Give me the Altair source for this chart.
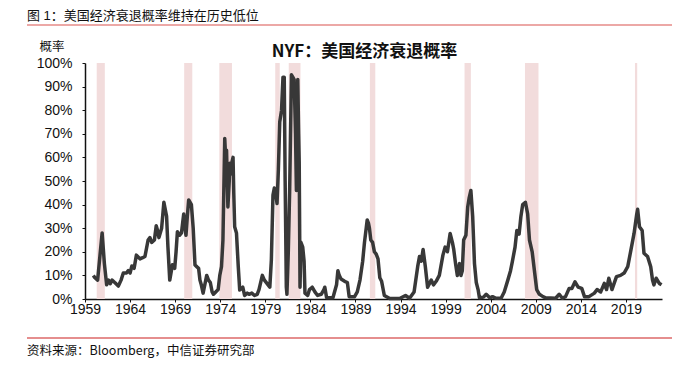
import altair as alt
import pandas as pd

# ---- data ----
years = [1959.92, 1960.1, 1960.4, 1960.9, 1961.15, 1961.4, 1961.6, 1961.8, 1962.0, 1962.3,
         1962.7, 1963.0, 1963.25, 1963.6, 1963.8, 1964.0, 1964.2, 1964.45, 1964.7, 1965.1,
         1965.4, 1965.65, 1966.0, 1966.2, 1966.4, 1966.7, 1966.9, 1967.05, 1967.2, 1967.5,
         1967.75, 1968.05, 1968.2, 1968.4, 1968.7, 1968.95, 1969.1, 1969.25, 1969.5, 1969.7,
         1969.95, 1970.1, 1970.2, 1970.35, 1970.5, 1970.8, 1971.0, 1971.2, 1971.45, 1971.6,
         1971.75, 1971.9, 1972.1, 1972.5, 1972.7, 1972.9, 1973.1, 1973.25, 1973.5, 1973.77,
         1973.95, 1974.14, 1974.3, 1974.5, 1974.6, 1974.7, 1974.85, 1975.0, 1975.06, 1975.2,
         1975.3, 1975.42, 1975.5, 1975.6, 1975.8, 1976.0, 1976.16, 1976.5, 1976.7, 1977.0,
         1977.2, 1977.5, 1977.8, 1978.1, 1978.3, 1978.67, 1978.9, 1979.2, 1979.5, 1979.67,
         1979.85, 1980.0, 1980.15, 1980.3, 1980.45, 1980.6, 1980.8, 1980.96, 1981.1, 1981.2,
         1981.33, 1981.4, 1981.55, 1981.7, 1981.9, 1982.05, 1982.2, 1982.35, 1982.45, 1982.6,
         1982.7, 1982.76, 1982.85, 1982.95, 1983.15, 1983.3, 1983.4, 1983.7, 1983.9, 1984.2,
         1984.5, 1984.8, 1985.2, 1985.5, 1985.6, 1985.8, 1986.5, 1986.9, 1987.05, 1987.2,
         1987.4, 1987.8, 1988.1, 1988.3, 1988.9, 1989.2, 1989.5, 1989.8, 1990.0, 1990.3,
         1990.45, 1990.55, 1990.7, 1990.9, 1991.1, 1991.3, 1991.5, 1991.7, 1991.9, 1992.2,
         1992.8, 1993.9, 1994.55, 1995.0, 1995.5, 1995.9, 1996.1, 1996.3, 1996.5, 1996.75,
         1997.0, 1997.4, 1997.65, 1997.95, 1998.3, 1998.7, 1998.95, 1999.2, 1999.5, 1999.75,
         1999.9, 2000.1, 2000.3, 2000.55, 2000.7, 2000.85, 2001.0, 2001.25, 2001.45, 2001.6,
         2001.8, 2002.0, 2002.2, 2002.4, 2002.6, 2002.75, 2003.2, 2003.5, 2003.9, 2004.2,
         2004.6, 2005.15, 2005.5, 2005.9, 2006.2, 2006.4, 2006.7, 2006.9, 2007.15, 2007.35,
         2007.55, 2007.85, 2008.1, 2008.3, 2008.6, 2008.85, 2009.1, 2009.4, 2009.8, 2010.1,
         2011.2, 2011.6, 2011.95, 2012.3, 2012.7, 2013.0, 2013.35, 2013.7, 2014.1, 2014.4,
         2014.9, 2015.5, 2015.8, 2016.2, 2016.6, 2016.85, 2017.1, 2017.45, 2017.95, 2018.4,
         2018.8, 2019.2, 2019.55, 2019.9, 2020.2, 2020.3, 2020.5, 2020.8, 2021.0, 2021.4,
         2021.75, 2021.95, 2022.1, 2022.35, 2022.7, 2022.95]
probs = [10, 9, 8, 28, 15, 6, 8, 6.5, 8, 7,
         5.5, 8, 11, 11, 12, 11, 14, 13, 18.6, 17,
         17.5, 18, 25, 26, 24, 25, 31, 29, 26, 30,
         41, 35, 22, 8, 14.5, 13, 20, 28.5, 27, 28,
         36, 30, 27, 35, 42, 40, 30, 14.4, 13.5, 13,
         8, 6, 2.5, 10, 8, 7, 3, 2, 3, 4,
         10, 13.7, 25, 68, 60, 63, 39, 50, 57.5, 53,
         58, 60, 45, 30.6, 28, 13.7, 3.8, 5, 1.5, 2.5,
         2, 2.5, 1.5, 2, 4, 10, 8, 6.5, 5, 16.5,
         44, 47, 45, 40.5, 55, 75, 80, 94, 94, 50,
         5, 2, 20, 46, 95, 94, 93, 70, 46, 93,
         70, 58, 5, 24, 22, 16, 2.5, 1.5, 4, 5,
         3, 1.5, 2, 4, 5, 0.5, 0.5, 6, 12, 10,
         8.5, 7.5, 7, 1, 1, 3, 8, 16, 24, 33.5,
         32, 30, 25, 24, 20, 19, 17, 9, 7.5, 1.5,
         0.2, 0.2, 1.5, 0.3, 3, 13.7, 18, 16, 21, 13.7,
         5, 8, 6, 7.5, 10, 18.6, 22, 20, 27.8, 24,
         21, 15, 10, 15, 10, 12, 25, 27, 39, 42.6,
         46, 35, 15, 7, 4, 0.5, 0.8, 2, 0.5, 1,
         0.3, 0.3, 3, 8, 12, 15.8, 22, 29, 27.5, 35,
         40, 41, 36, 25, 20, 12, 4, 2, 1, 0.5,
         0.3, 2, 0.3, 1, 4.5, 4.5, 7.3, 5, 4.5, 1,
         1, 2.5, 4, 3, 6.6, 4, 8.8, 4, 9.5, 10,
         11, 13.7, 20.7, 27.8, 36, 38, 30.6, 29, 19.4, 18,
         13.7, 8, 6, 8.8, 6.6, 6]

rec_start = [1960.3, 1970.0, 1973.9, 1980.1, 1981.6, 1990.6, 2001.1, 2007.8, 2020.0]
rec_end = [1961.2, 1970.9, 1975.3, 1980.6, 1982.9, 1991.2, 2001.8, 2009.3, 2020.25]

x_ticks = [1959, 1964, 1969, 1974, 1979, 1984, 1989, 1994, 1999, 2004, 2009, 2014, 2019]
y_ticks = [0, 10, 20, 30, 40, 50, 60, 70, 80, 90, 100]

fig_title = "图 1：美国经济衰退概率维持在历史低位"
chart_title = "NYF：美国经济衰退概率"
y_label = "概率"
source = "资料来源：Bloomberg，中信证券研究部"

# ---- build ----
LAT = "Liberation Sans, Arial, Noto Sans CJK SC"
CJK = "Noto Sans CJK SC, Liberation Sans"
W, H = 577, 236

line_df = pd.DataFrame({"year": years, "p": probs})
rec_df = pd.DataFrame({"s": rec_start, "e": rec_end})

xscale = alt.Scale(domain=[1959, 2023], nice=False, zero=False)
yscale = alt.Scale(domain=[0, 100], nice=False)

bands = alt.Chart(rec_df).mark_rect(color="#f2dcdc").encode(
    x=alt.X("s:Q", scale=xscale),
    x2="e:Q",
    y=alt.value(0),
    y2=alt.value(H),
)

line = alt.Chart(line_df).mark_line(color="#383838", strokeWidth=3.5, strokeJoin="round").encode(
    x=alt.X("year:Q", scale=xscale,
            axis=alt.Axis(values=x_ticks, format="d", title=None, grid=False,
                          labelFont=LAT, labelFontSize=14, labelColor="#111",
                          domainColor="#111", domainWidth=1.5, tickColor="#111",
                          tickSize=3, labelPadding=0, labelFlush=False, labelOverlap=False)),
    y=alt.Y("p:Q", scale=yscale,
            axis=alt.Axis(values=y_ticks, labelExpr="datum.value + '%'", title=None, grid=False,
                          labelFont=LAT, labelFontSize=14, labelColor="#111",
                          domainColor="#111", domainWidth=1.5, tickColor="#111",
                          tickSize=3, labelPadding=10)),
)

def txt(s, x, y, size, font=CJK, weight="normal", align="left", color="#111"):
    return alt.Chart(pd.DataFrame({"t": [s]})).mark_text(
        font=font, fontSize=size, fontWeight=weight, align=align, baseline="middle", color=color
    ).encode(x=alt.value(x), y=alt.value(y), text="t:N")

def rule(x1, x2, y, color):
    return alt.Chart(pd.DataFrame({"a": [0]})).mark_rule(color=color, strokeWidth=1.2).encode(
        x=alt.value(x1), x2=alt.value(x2), y=alt.value(y))

chart = alt.layer(
    bands, line,
    txt(fig_title, -58, -47, 13, font=LAT),
    rule(-58, 587, -38, "#d9534f"),
    txt(chart_title, 279.5, -11, 17, weight="bold", align="center"),
    txt(y_label, -33, -16, 12.5, align="center"),
    rule(-58, 587, 275, "#cc1f1f"),
    txt(source, -58, 288, 12.5),
).properties(
    width=W, height=H,
    padding={"left": 77, "top": 55, "right": 10, "bottom": 63},
    autosize=alt.AutoSizeParams(type="none"),
).configure_view(stroke=None)

chart.save("out.html", embed_options={"renderer": "svg", "actions": False})
